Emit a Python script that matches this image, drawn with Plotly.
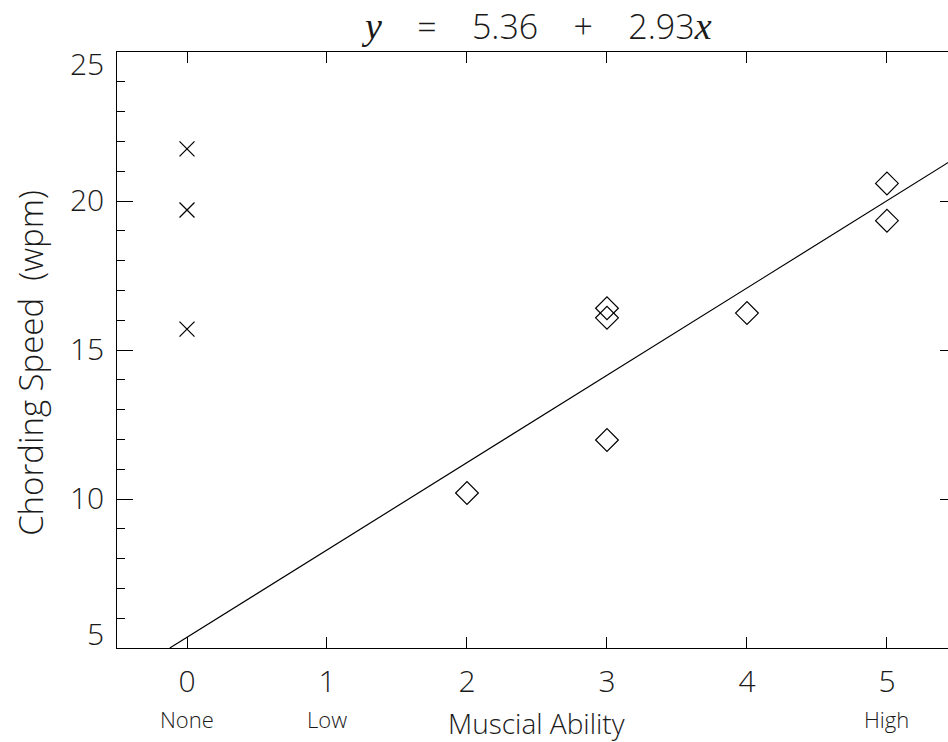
import plotly.graph_objects as go

# Regression fit shown in the title
intercept = 5.36
slope = 2.93

# Non-musicians (ability 0)
none_x = [0, 0, 0]
none_y = [21.75, 19.70, 15.70]

# Musicians with some ability
mus_x = [2, 3, 3, 3, 4, 5, 5]
mus_y = [10.20, 11.98, 16.08, 16.40, 16.24, 20.59, 19.34]

# Axis ticks and labels
x_ticks = [0, 1, 2, 3, 4, 5]
x_sublabels = ["None", "Low", "", "", "", "High"]
y_ticks = [5, 10, 15, 20, 25]
x_range = [-0.5, 5.436]
y_range = [5, 25]

FONT = "Open Sans"
TXT = "#1a1a1a"
SERIF = "'Liberation Serif'"

fig = go.Figure()

# Regression line, starting where it meets the bottom of the axis
x0 = (y_range[0] - intercept) / slope
x1 = x_range[1] + 0.2
fig.add_trace(go.Scatter(
    x=[x0, x1], y=[intercept + slope * x0, intercept + slope * x1],
    mode="lines", line=dict(color="black", width=1.2),
    hoverinfo="skip", showlegend=False))

fig.add_trace(go.Scatter(
    x=none_x, y=none_y, mode="markers", showlegend=False,
    marker=dict(symbol="x-thin-open", size=15, color="black",
                line=dict(color="black", width=1.3))))

fig.add_trace(go.Scatter(
    x=mus_x, y=mus_y, mode="markers", showlegend=False,
    marker=dict(symbol="diamond-open", size=17.5, color="black",
                line=dict(color="black", width=1.2))))

# Invisible trace bound to the right-hand tick axis
fig.add_trace(go.Scatter(x=[], y=[], yaxis="y2", showlegend=False))

fig.update_layout(
    width=948, height=742,
    margin=dict(l=117, r=0, t=52, b=94),
    plot_bgcolor="white", paper_bgcolor="white",
    font=dict(family=FONT, color=TXT, weight=300),
    xaxis=dict(
        range=x_range, tickvals=x_ticks, ticktext=[str(v) for v in x_ticks],
        ticks="inside", ticklen=11, tickwidth=1, tickcolor="black",
        showline=True, linecolor="black", linewidth=1.2, mirror="ticks",
        showgrid=False, zeroline=False,
        tickfont=dict(family=FONT, size=30, color=TXT, weight=300),
        ticklabelstandoff=7,
    ),
    yaxis=dict(
        range=y_range, tickvals=y_ticks, showticklabels=False,
        ticks="inside", ticklen=16, tickwidth=1, tickcolor="black",
        minor=dict(ticks="inside", ticklen=8, dtick=1, tick0=0,
                   tickcolor="black", tickwidth=1, showgrid=False),
        showline=True, linecolor="black", linewidth=1.2, mirror=False,
        showgrid=False, zeroline=False,
    ),
    yaxis2=dict(
        range=y_range, tickvals=y_ticks, showticklabels=False,
        overlaying="y", side="right", anchor="x",
        ticks="inside", ticklen=8, tickwidth=1, tickcolor="black",
        showline=False, showgrid=False, zeroline=False,
    ),
)

# Y tick labels: end labels sit inside the axis span
for v in y_ticks:
    if v == y_range[1]:
        anchor, shift = "top", 11
    elif v == y_range[0]:
        anchor, shift = "bottom", -8
    else:
        anchor, shift = "middle", 2
    fig.add_annotation(
        x=0, xref="paper", y=v, yref="y", text=str(v), showarrow=False,
        xanchor="right", yanchor=anchor, xshift=-11, yshift=shift,
        font=dict(family=FONT, size=30, color=TXT, weight=300))

# Qualitative labels under the numeric ticks
for xv, lab in zip(x_ticks, x_sublabels):
    if lab:
        fig.add_annotation(
            x=xv, xref="x", y=0, yref="paper", text=lab, showarrow=False,
            xanchor="center", yanchor="top", yshift=-54,
            font=dict(family=FONT, size=22, color=TXT, weight=300))

# Axis titles
fig.add_annotation(
    x=0.505, xref="paper", y=0, yref="paper", text="Muscial Ability",
    showarrow=False, xanchor="center", yanchor="top", yshift=-54,
    font=dict(family=FONT, size=28, color=TXT, weight=300))
fig.add_annotation(
    x=-0.105, xref="paper", y=0.478, yref="paper",
    text="Chording Speed\u00a0\u00a0(wpm)", textangle=-90,
    showarrow=False, xanchor="center", yanchor="middle",
    font=dict(family=FONT, size=33, color=TXT, weight=300))

# Title with the fitted equation
sp = "\u00a0\u00a0\u00a0\u00a0"
var = "<span style=\"font-family:{f};font-size:38px\"><i>{v}</i></span>"
title = (var.format(f=SERIF, v="y") + f"{sp}={sp}"
         f"{intercept:.2f}{sp}+{sp}{slope:.2f}"
         + var.format(f=SERIF, v="x"))
fig.add_annotation(
    x=0.505, xref="paper", y=1, yref="paper", text=title, showarrow=False,
    xanchor="center", yanchor="bottom", yshift=1,
    font=dict(family=FONT, size=34, color=TXT, weight=300))

fig.write_html("out.html")
